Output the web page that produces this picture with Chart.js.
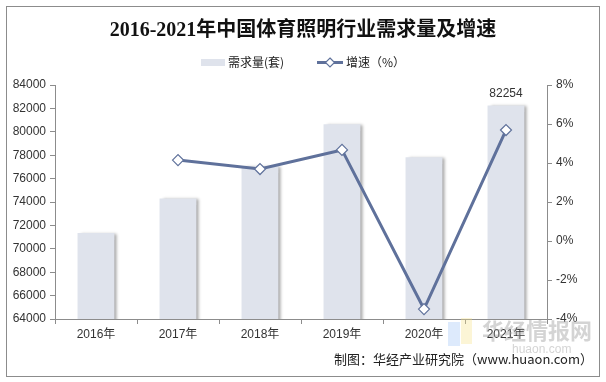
<!DOCTYPE html>
<html>
<head>
<meta charset="utf-8">
<script src="https://cdn.jsdelivr.net/npm/chart.js@4"></script>
<style>
  html, body { margin: 0; padding: 0; background: #fff; }
  #caja { width: 606px; height: 382px; position: relative; }
</style>
</head>
<body>
<div id="caja"><canvas id="grafica"></canvas></div>
<script>
const ANIOS = ["2016年", "2017年", "2018年", "2019年", "2020年", "2021年"]
const DEMANDA = [71340, 74300, 77040, 80640, 77830, 82254]
const CRECIMIENTO = [null, 4.15, 3.69, 4.67, -3.49, 5.69]
const TITULO = "2016-2021年中国体育照明行业需求量及增速"
const LEYENDA = ["需求量(套)", "增速（%）"]
const FUENTE = "制图：华经产业研究院（www.huaon.com）"

const COLOR_BARRA = "#dfe3ec"
const COLOR_LINEA = "#5f719b"
const FUENTE_EJE = '12px "Liberation Sans", Arial, "Noto Sans CJK SC"'

// marco, titulo, leyenda y textos sueltos
const decoracion = {
  id: "decoracion",
  beforeDraw(chart) {
    const ctx = chart.ctx
    ctx.save()
    ctx.fillStyle = "#fff"
    ctx.fillRect(0, 0, chart.width, chart.height)
    ctx.restore()
  },
  afterDraw(chart) {
    const ctx = chart.ctx
    ctx.save()
    ctx.strokeStyle = "#8c8c8c"
    ctx.lineWidth = 1
    ctx.strokeRect(6.5, 6.5, 593, 370)

    ctx.fillStyle = "#111"
    ctx.textAlign = "center"
    ctx.textBaseline = "middle"
    ctx.font = 'bold 20px "Liberation Serif", "Noto Sans CJK SC"'
    ctx.fillText(TITULO, 303, 31)

    // leyenda
    ctx.font = '12px "Noto Sans CJK SC"'
    ctx.textAlign = "left"
    ctx.fillStyle = COLOR_BARRA
    ctx.fillRect(201, 59, 24, 7)
    ctx.fillStyle = "#222"
    ctx.fillText(LEYENDA[0], 228, 62)
    ctx.strokeStyle = COLOR_LINEA
    ctx.lineWidth = 3
    ctx.beginPath()
    ctx.moveTo(317, 62.5)
    ctx.lineTo(343, 62.5)
    ctx.stroke()
    ctx.fillStyle = "#fff"
    ctx.lineWidth = 1.2
    ctx.beginPath()
    ctx.moveTo(330, 58)
    ctx.lineTo(334.5, 62.5)
    ctx.lineTo(330, 67)
    ctx.lineTo(325.5, 62.5)
    ctx.closePath()
    ctx.fill()
    ctx.stroke()
    ctx.fillStyle = "#222"
    ctx.fillText(LEYENDA[1], 346, 62)

    // etiqueta del ultimo valor
    const meta = chart.getDatasetMeta(1)
    const ultima = meta.data[DEMANDA.length - 1]
    ctx.font = FUENTE_EJE
    ctx.textAlign = "center"
    ctx.fillStyle = "#333"
    ctx.fillText(String(DEMANDA[DEMANDA.length - 1]), ultima.x, ultima.y - 12)

    // marca de agua
    ctx.globalAlpha = 0.35
    ctx.fillStyle = "#9ec2f5"
    ctx.fillRect(448, 322, 12, 24)
    ctx.fillStyle = "#f7e18a"
    ctx.fillRect(461, 318, 11, 26)
    ctx.globalAlpha = 0.45
    ctx.fillStyle = "#a0a0a0"
    ctx.font = 'bold 22px "Noto Sans CJK SC"'
    ctx.textAlign = "left"
    ctx.fillText("华经情报网", 482, 331)
    ctx.font = '12px "Liberation Sans"'
    ctx.fillText("huaon.com", 512, 350)
    ctx.globalAlpha = 1

    ctx.font = '13px "Noto Sans CJK SC"'
    ctx.textAlign = "right"
    ctx.fillStyle = "#222"
    ctx.fillText(FUENTE, 593, 359)
    ctx.restore()
  }
}

// sombra de las barras
const sombra = {
  id: "sombra",
  beforeDatasetDraw(chart, args) {
    if (args.index !== 1) return
    const ctx = chart.ctx
    ctx.save()
    ctx.shadowColor = "rgba(0,0,0,0.35)"
    ctx.shadowOffsetX = 3
    ctx.shadowOffsetY = 1
    ctx.shadowBlur = 3
  },
  afterDatasetDraw(chart, args) {
    if (args.index !== 1) return
    chart.ctx.restore()
  }
}

const ctx = document.getElementById("grafica").getContext("2d")

new Chart(ctx, {
  data: {
    labels: ANIOS,
    datasets: [{
      type: "line",
      label: LEYENDA[1],
      data: CRECIMIENTO,
      yAxisID: "y2",
      borderColor: COLOR_LINEA,
      borderWidth: 3,
      pointStyle: "rectRot",
      pointRadius: 5.5,
      pointBackgroundColor: "#fff",
      pointBorderColor: COLOR_LINEA,
      pointBorderWidth: 1.2,
      tension: 0,
      order: 0
    }, {
      type: "bar",
      label: LEYENDA[0],
      data: DEMANDA,
      yAxisID: "y",
      backgroundColor: COLOR_BARRA,
      categoryPercentage: 1,
      barPercentage: 0.45,
      order: 1
    }]
  },
  options: {
    responsive: true,
    maintainAspectRatio: false,
    animation: false,
    layout: { padding: { top: 85, left: 0, right: 0, bottom: 0 } },
    plugins: {
      legend: { display: false },
      title: { display: false },
      tooltip: { enabled: false }
    },
    scales: {
      x: {
        offset: true,
        grid: { display: true, drawOnChartArea: false, offset: true, color: "#8c8c8c", tickLength: 5 },
        border: { color: "#8c8c8c" },
        ticks: { font: { family: '"Liberation Sans", "Noto Sans CJK SC"', size: 12 }, color: "#333", padding: 3 },
        afterFit(escala) { escala.height = 63 }
      },
      y: {
        position: "left",
        min: 64000,
        max: 84000,
        ticks: { stepSize: 2000, font: { family: '"Liberation Sans"', size: 12 }, color: "#333", padding: 4,
          callback: v => String(v) },
        grid: { drawOnChartArea: false, color: "#8c8c8c", tickLength: 5 },
        border: { color: "#8c8c8c" },
        afterFit(escala) { escala.width = 55 }
      },
      y2: {
        position: "right",
        min: -4,
        max: 8,
        ticks: { stepSize: 2, font: { family: '"Liberation Sans"', size: 12 }, color: "#333", padding: 4,
          callback: v => v + "%" },
        grid: { drawOnChartArea: false, color: "#8c8c8c", tickLength: 5 },
        border: { color: "#8c8c8c" },
        afterFit(escala) { escala.width = 59 }
      }
    }
  },
  plugins: [decoracion, sombra]
})
</script>
</body>
</html>
